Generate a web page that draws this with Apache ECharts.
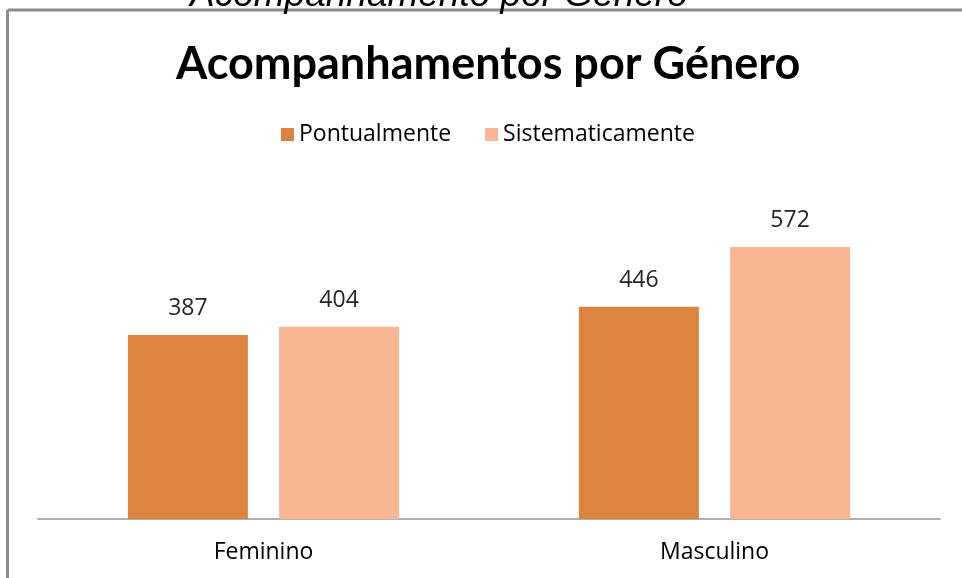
<!DOCTYPE html>
<html>
<head>
<meta charset="utf-8">
<script src="https://cdn.jsdelivr.net/npm/echarts@6/dist/echarts.min.js"></script>
<style>
html,body{margin:0;padding:0;background:#fff;}
#c{width:962px;height:578px;}
</style>
</head>
<body>
<div id="c"></div>
<script>
var categories = ['Feminino', 'Masculino'];
var seriesNames = ['Pontualmente', 'Sistematicamente'];
var pontualmente = [387, 446];
var sistematicamente = [404, 572];
var chartTitle = 'Acompanhamentos por Género';
var topTitle = 'Acompanhamento por Género';

var chart = echarts.init(document.getElementById('c'));
var font = '"Open Sans", Lato, sans-serif';
var labelStyle = {show: true, position: 'top', distance: 15, color: '#262626', fontSize: 23, fontFamily: font};
chart.setOption({
  animation: false,
  backgroundColor: '#ffffff',
  graphic: [
    {type: 'line', z: 1, shape: {x1: 7.5, y1: 10, x2: 970, y2: 10}, style: {stroke: '#8c8c8c', lineWidth: 3}},
    {type: 'line', z: 1, shape: {x1: 7.5, y1: 10, x2: 7.5, y2: 590}, style: {stroke: '#8c8c8c', lineWidth: 3}},
    {type: 'text', z: 5, left: 190, top: -23, style: {text: topTitle, font: 'italic 37px "Liberation Sans", Arial, sans-serif', fill: '#000'}}
  ],
  title: {
    text: chartTitle,
    left: 171, top: 37,
    textStyle: {fontFamily: 'Lato, sans-serif', fontWeight: 'bold', fontSize: 45, color: '#000'}
  },
  legend: {
    top: 123, left: 281, padding: 0,
    itemWidth: 13, itemHeight: 13, itemGap: 34,
    textStyle: {fontFamily: font, fontSize: 23, color: '#000'},
    data: seriesNames.map(function(n){return {name: n, icon: 'rect'};})
  },
  grid: {left: 38, right: 22, top: 186, bottom: 59},
  xAxis: {
    type: 'category', data: categories,
    axisLine: {lineStyle: {color: '#b0b0b0', width: 2}},
    axisTick: {show: false},
    axisLabel: {margin: 22, fontFamily: font, fontSize: 23, color: '#000'}
  },
  yAxis: {type: 'value', min: 0, max: 700, show: false, splitLine: {show: false}},
  series: [
    {name: seriesNames[0], type: 'bar', data: pontualmente, barWidth: 120, barGap: '26%',
     itemStyle: {color: '#DC843F'}, label: labelStyle},
    {name: seriesNames[1], type: 'bar', data: sistematicamente, barWidth: 120, barGap: '26%',
     itemStyle: {color: '#F8B692'}, label: labelStyle}
  ]
});
</script>
</body>
</html>
